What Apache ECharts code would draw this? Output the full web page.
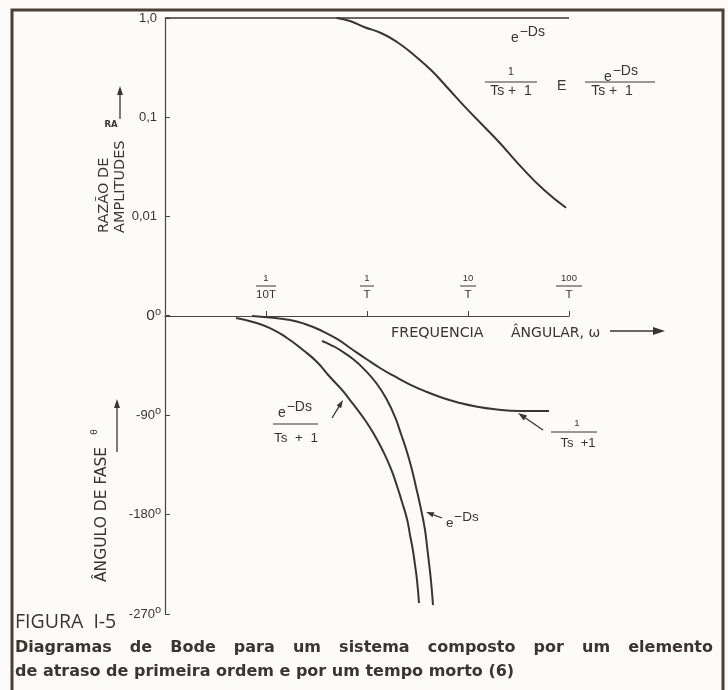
<!DOCTYPE html>
<html><head><meta charset="utf-8">
<script src="https://cdn.jsdelivr.net/npm/echarts@6/dist/echarts.min.js"></script>
<style>html,body{margin:0;padding:0;background:#fcfbf7;}#c{width:728px;height:690px;}</style>
</head><body><div id="c"></div>
<script>
// ---- data (frequency in units of 1/T) ----
const arLagFreq = [0.5, 0.679, 0.934, 1.376, 1.98, 2.92, 4.30, 6.2, 9.8, 19.4, 35.8, 56.7, 93.4];
const arLag     = [1.0, 0.933, 0.811, 0.705, 0.572, 0.423, 0.298, 0.20, 0.120, 0.0586, 0.0292, 0.0183, 0.0121];
const arDeadFreq = [0.01, 100];
const arDead     = [1, 1];
const phLagFreq = [0.0727, 0.1095, 0.1728, 0.2432, 0.3425, 0.5047, 0.7269, 1.0, 1.345, 1.809, 2.666, 3.928, 5.655, 8.333, 12.0, 17.68, 32.73, 63.39];
const phLag     = [0, -1.4, -3.6, -7.2, -12.7, -20.8, -30.8, -39.4, -47.1, -53.9, -62.1, -68.9, -74.3, -78.8, -82.0, -84.3, -86.1, -86.1];
const phBothFreq = [0.0505, 0.0743, 0.1095, 0.1614, 0.2325, 0.3198, 0.4302, 0.5655, 0.7269, 0.9554, 1.200, 1.440, 1.728, 1.982, 2.221, 2.489, 2.666, 2.855, 2.987, 3.126, 3.272];
const phBoth     = [-1.8, -5.4, -10.9, -19.9, -30.8, -41.7, -55.3, -67.0, -79.7, -94.2, -108.7, -122.3, -138.6, -154.0, -168.5, -183.9, -198.4, -212.9, -225.6, -239.2, -260.0];
const phDeadFreq = [0.3584, 0.4400, 0.5402, 0.7269, 0.9554, 1.256, 1.578, 1.893, 2.171, 2.489, 2.790, 3.056, 3.272, 3.504, 3.752, 3.928, 4.111, 4.302, 4.503];
const phDead     = [-22.7, -26.3, -30.8, -39.0, -49.0, -61.6, -76.1, -91.5, -106.9, -123.2, -139.5, -154.9, -166.7, -179.4, -193.9, -208.4, -223.8, -240.1, -261.8];
const freqTicks = [0.1, 1, 10, 100];
const freqNum   = ['1', '1', '10', '100'];
const freqDen   = ['10T', 'T', 'T', 'T'];
const arTicks      = [1, 0.1, 0.01];
const arTickLabels = ['1,0', '0,1', '0,01'];
const phTicks      = [0, -90, -180, -270];
const phTickLabels = ['0', '-90', '-180', '-270'];

const C = '#3b3430';
const AX = '#4a423c';
const FF = '"Liberation Sans", Arial, sans-serif';
const FD = '"DejaVu Sans", sans-serif';

function zip(a, b) { return a.map((v, i) => [v, b[i]]); }
function findIdx(arr, v) {
  return arr.findIndex(t => Math.abs(Math.log10(t) - Math.log10(v)) < 1e-6);
}

// annotation helpers (pixel placement of labels only)
function txt(x, y, s, size, o) {
  o = o || {};
  return { type: 'text', x: x, y: y, rotation: o.rot || 0, z: 10,
    style: { text: s, fill: C, fontSize: size, fontFamily: o.ff || FF, fontWeight: o.fw || 'normal',
      align: o.align || 'left', verticalAlign: o.va || 'middle', lineHeight: o.lh } };
}
function hline(x1, x2, y, w) {
  return { type: 'line', z: 10, shape: { x1: x1, y1: y, x2: x2, y2: y }, style: { stroke: C, lineWidth: w || 1.1 } };
}
function arrow(x1, y1, x2, y2, head, w) {
  head = head || 8; w = w || 1.3;
  const a = Math.atan2(y2 - y1, x2 - x1);
  const hx = x2 - head * Math.cos(a), hy = y2 - head * Math.sin(a);
  const px = -Math.sin(a) * head * 0.33, py = Math.cos(a) * head * 0.33;
  return [
    { type: 'line', z: 10, shape: { x1: x1, y1: y1, x2: hx, y2: hy }, style: { stroke: C, lineWidth: w } },
    { type: 'polygon', z: 10, shape: { points: [[x2, y2], [hx + px, hy + py], [hx - px, hy - py]] }, style: { fill: C } }
  ];
}
function expo(x, y, size) { // "e" with raised "−Ds"
  return [txt(x, y, 'e', size), txt(x + size * 0.62, y - size * 0.45, '\u2212Ds', size)];
}
// justified caption line
const capSize = 16;
const capFont = 'bold ' + capSize + 'px "DejaVu Sans"';
function justified(text, x1, x2, y) {
  const ctx = document.createElement('canvas').getContext('2d');
  ctx.font = capFont;
  const words = text.split(' ');
  const widths = words.map(w => ctx.measureText(w).width);
  const total = widths.reduce((a, b) => a + b, 0);
  const gap = (x2 - x1 - total) / (words.length - 1);
  let x = x1;
  return words.map((w, i) => { const e = txt(x, y, w, capSize, { ff: FD, fw: 'bold' }); x += widths[i] + gap; return e; });
}

const chart = echarts.init(document.getElementById('c'), null, { renderer: 'canvas' });

const barStyles = { b0: 20, b1: 14, b2: 16, b3: 26 };
const rich = {
  n: { fontSize: 9.5, fontFamily: FF, color: C, lineHeight: 10, align: 'center' },
  d: { fontSize: 11.5, fontFamily: FF, color: C, lineHeight: 11, align: 'center' }
};
Object.keys(barStyles).forEach(k => {
  rich[k] = { width: barStyles[k], height: 1, backgroundColor: C, lineHeight: 6, fontSize: 1, align: 'center' };
});

const graphics = [].concat(
  // frame
  [{ type: 'polyline', z: 5, shape: { points: [[12, 690], [12, 10], [723, 10], [723, 690]] }, style: { stroke: '#4b3f36', lineWidth: 3, fill: null } }],
  // amplitude axis title
  [txt(112, 233, 'RAZÃO DE\nAMPLITUDES', 14.5, { rot: Math.PI / 2, ff: FD, lh: 16 })],
  [txt(111, 125, 'RA', 8.5, { fw: 'bold', align: 'center', ff: FD })],
  arrow(120, 119, 120, 86, 9, 1.3),
  // phase axis title
  [txt(102, 582, 'ÂNGULO DE FASE', 15.5, { rot: Math.PI / 2, ff: FD })],
  [txt(95, 432, 'θ', 9, { rot: Math.PI / 2, align: 'center', ff: FD })],
  arrow(117, 452, 117, 399, 9, 1.3),
  // frequency axis title
  [txt(391, 333, 'FREQUENCIA', 14.3, { ff: FD }), txt(511, 333, 'ÂNGULAR, ω', 14, { ff: FD })],
  arrow(610, 331, 665, 331, 12, 1.3),
  // top annotations
  expo(511, 38, 14),
  [txt(511, 72, '1', 10.5, { align: 'center' }), hline(485, 537, 82), txt(511, 91, 'Ts +  1', 14, { align: 'center' })],
  [txt(557, 86, 'E', 14, {})],
  expo(604, 77, 14),
  [hline(585, 655, 82), txt(612, 91, 'Ts +  1', 14, { align: 'center' })],
  // bottom annotations
  expo(278, 413, 14),
  [hline(273, 318, 424), txt(296, 438, 'Ts  +  1', 13.5, { align: 'center' })],
  arrow(332, 418, 343, 400, 8, 1.3),
  [txt(577, 423, '1', 9.5, { align: 'center' }), hline(551, 597, 432), txt(578, 443, 'Ts  +1', 13, { align: 'center' })],
  arrow(543, 430, 518, 413, 9, 1.3),
  expo(446, 523, 13.5),
  arrow(442, 518, 426, 512, 8, 1.3),
  // caption
  [txt(15, 622, 'FIGURA  I-5', 19.5, { ff: '"Open Sans", sans-serif' })],
  justified('Diagramas de Bode para um sistema composto por um elemento', 15, 713, 648),
  [txt(15, 672, 'de atraso de primeira ordem e por um tempo morto (6)', capSize, { ff: FD, fw: 'bold' })]
);

const option = {
  backgroundColor: '#fcfbf7',
  animation: false,
  grid: [
    { left: 165, top: 18, width: 404, height: 297 },
    { left: 165, top: 316, width: 404, height: 298 }
  ],
  xAxis: [
    { type: 'log', gridIndex: 0, min: 0.01, max: 100, show: false },
    { type: 'log', gridIndex: 1, min: 0.01, max: 100, position: 'top',
      axisLine: { show: true, lineStyle: { color: AX, width: 1.2 } },
      axisTick: { show: true, inside: false, length: 5, lineStyle: { color: AX, width: 1 } },
      splitLine: { show: false },
      axisLabel: { margin: 16, rich: rich, interval: 0,
        formatter: v => { const i = findIdx(freqTicks, v); return i < 0 ? '' : '{n|' + freqNum[i] + '}\n{b' + i + '| }\n{d|' + freqDen[i] + '}'; } } }
  ],
  yAxis: [
    { type: 'log', gridIndex: 0, min: 0.001, max: 1,
      axisLine: { show: true, lineStyle: { color: AX, width: 1.2 } },
      axisTick: { show: true, inside: true, length: 5, lineStyle: { color: AX } },
      splitLine: { show: false },
      axisLabel: { margin: 8, color: C, fontSize: 13, fontFamily: FF,
        formatter: v => { const i = findIdx(arTicks, v); return i < 0 ? '' : arTickLabels[i]; } } },
    { type: 'value', gridIndex: 1, min: -270, max: 0, interval: 90,
      axisLine: { show: true, lineStyle: { color: AX, width: 1.2 } },
      axisTick: { show: true, inside: true, length: 5, lineStyle: { color: AX } },
      splitLine: { show: false },
      axisLabel: { margin: 4, color: C, fontSize: 12, fontFamily: FF,
        rich: { v: { fontSize: 13, fontFamily: FF, color: C }, z: { fontSize: 15.5, fontFamily: FF, color: C },
                dg: { fontSize: 11, fontFamily: FF, color: C, verticalAlign: 'top', padding: [0, 0, 8, 0] } },
        formatter: v => { const i = phTicks.indexOf(v); if (i < 0) return ''; return (v === 0 ? '{z|' : '{v|') + phTickLabels[i] + '}{dg|o}'; } } }
  ],
  series: [
    { type: 'line', xAxisIndex: 0, yAxisIndex: 0, data: zip(arDeadFreq, arDead), symbol: 'none', clip: false,
      lineStyle: { color: C, width: 1.6 } },
    { type: 'line', xAxisIndex: 0, yAxisIndex: 0, data: zip(arLagFreq, arLag), symbol: 'none', clip: false, smooth: 0.5,
      lineStyle: { color: C, width: 2 } },
    { type: 'line', xAxisIndex: 1, yAxisIndex: 1, data: zip(phLagFreq, phLag), symbol: 'none', clip: false, smooth: 0.5,
      lineStyle: { color: C, width: 2 } },
    { type: 'line', xAxisIndex: 1, yAxisIndex: 1, data: zip(phBothFreq, phBoth), symbol: 'none', clip: false, smooth: 0.5,
      lineStyle: { color: C, width: 2 } },
    { type: 'line', xAxisIndex: 1, yAxisIndex: 1, data: zip(phDeadFreq, phDead), symbol: 'none', clip: false, smooth: 0.5,
      lineStyle: { color: C, width: 2 } }
  ],
  graphic: graphics
};
chart.setOption(option);
</script>
</body></html>
